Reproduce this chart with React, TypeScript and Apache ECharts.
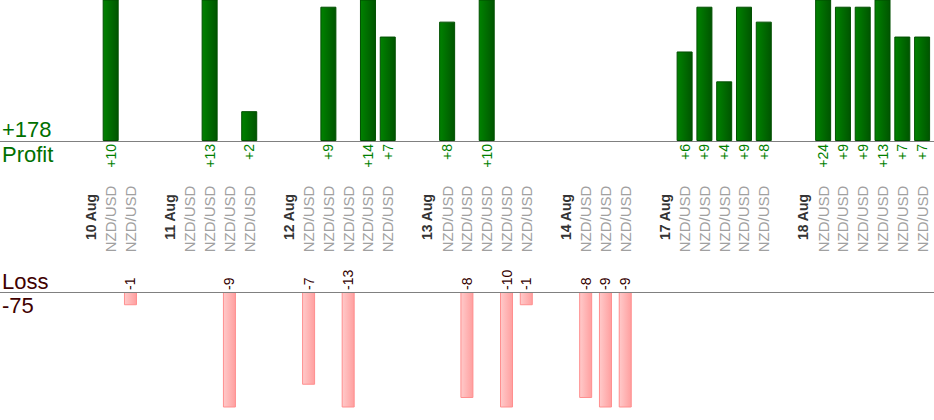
import React, { useEffect, useRef } from "react";
import * as echarts from "echarts";

const NZ = "NZD/USD";
const categories: string[] = [
  "10 Aug", NZ, NZ, "",
  "11 Aug", NZ, NZ, NZ, NZ, "",
  "12 Aug", NZ, NZ, NZ, NZ, NZ, "",
  "13 Aug", NZ, NZ, NZ, NZ, NZ, "",
  "14 Aug", NZ, NZ, NZ, "",
  "17 Aug", NZ, NZ, NZ, NZ, NZ, "",
  "18 Aug", NZ, NZ, NZ, NZ, NZ, NZ,
];
const dateLabels = ["10 Aug", "11 Aug", "12 Aug", "13 Aug", "14 Aug", "17 Aug", "18 Aug"];

const profitValues: (number | null)[] = [
  null, 10, null, null,
  null, null, 13, null, 2, null,
  null, null, 9, null, 14, 7, null,
  null, 8, null, 10, null, null, null,
  null, null, null, null, null,
  null, 6, 9, 4, 9, 8, null,
  null, 24, 9, 9, 13, 7, 7,
];
const lossValues: (number | null)[] = [
  null, null, -1, null,
  null, null, null, -9, null, null,
  null, -7, null, -13, null, null, null,
  null, null, -8, null, -10, -1, null,
  null, -8, -9, -9, null,
  null, null, null, null, null, null, null,
  null, null, null, null, null, null, null,
];

const FONT = 'Arial, "Liberation Sans", sans-serif';

export default function App() {
  const ref = useRef<HTMLDivElement>(null);
  useEffect(() => {
    if (!ref.current) return;
    const chart = echarts.init(ref.current, undefined, { renderer: "svg" });
    const totalProfit = profitValues.reduce((a: number, v) => a + (v || 0), 0);
    const totalLoss = lossValues.reduce((a: number, v) => a + (v || 0), 0);
    const catData = categories.map((c) =>
      dateLabels.includes(c)
        ? {
            value: c,
            textStyle: {
              fontWeight: "bold",
              color: "#333333",
              fontSize: 14,
              fontFamily: FONT,
              align: "center",
              verticalAlign: "middle",
              padding: [0, 0, 0, 4],
            },
          }
        : {
            value: c,
            textStyle: {
              color: "#a0a0a0",
              fontSize: 15,
              fontFamily: FONT,
              align: "center",
              verticalAlign: "middle",
            },
          }
    );
    chart.setOption({
      animation: false,
      textStyle: { fontFamily: FONT },
      grid: [
        { left: 81, width: 851, top: 0, height: 141 },
        { left: 81, width: 851, top: 292, height: 115 },
      ],
      xAxis: [
        {
          type: "category",
          gridIndex: 0,
          data: catData,
          axisLine: { show: false },
          axisTick: { show: false },
          axisLabel: {
            interval: 0,
            rotate: 90,
            align: "center",
            verticalAlign: "middle",
            margin: 78,
            fontFamily: FONT,
          },
        },
        {
          type: "category",
          gridIndex: 1,
          data: categories,
          show: false,
        },
      ],
      yAxis: [
        { type: "value", gridIndex: 0, min: 0, max: 9.45, show: false },
        { type: "value", gridIndex: 1, min: -8.68, max: 0, show: false },
      ],
      graphic: [
        { type: "line", shape: { x1: 0, y1: 141.5, x2: 934, y2: 141.5 }, style: { stroke: "#808080", lineWidth: 1 }, z: 10 },
        { type: "line", shape: { x1: 0, y1: 292.5, x2: 934, y2: 292.5 }, style: { stroke: "#808080", lineWidth: 1 }, z: 10 },
        { type: "text", left: 2, top: 118, style: { text: "+" + totalProfit, fill: "#007000", font: `22px ${FONT}` } },
        { type: "text", left: 2, top: 143, style: { text: "Profit", fill: "#007000", font: `22px ${FONT}` } },
        { type: "text", left: 2, top: 270, style: { text: "Loss", fill: "#400000", font: `22px ${FONT}` } },
        { type: "text", left: 2, top: 294, style: { text: String(totalLoss), fill: "#400000", font: `22px ${FONT}` } },
      ],
      series: [
        {
          type: "bar",
          xAxisIndex: 0,
          yAxisIndex: 0,
          data: profitValues,
          barWidth: 16,
          clip: true,
          itemStyle: {
            color: new echarts.graphic.LinearGradient(0, 0, 1, 0, [
              { offset: 0, color: "#008200" },
              { offset: 1, color: "#005500" },
            ]),
            borderColor: "#004f00",
            borderWidth: 1,
          },
          label: {
            show: true,
            position: "bottom",
            distance: 3,
            rotate: 90,
            align: "right",
            verticalAlign: "middle",
            color: "#008000",
            fontSize: 14,
            fontFamily: FONT,
            formatter: (p: any) => "+" + p.value,
          },
        },
        {
          type: "bar",
          xAxisIndex: 1,
          yAxisIndex: 1,
          data: lossValues,
          barWidth: 13,
          clip: true,
          itemStyle: {
            color: new echarts.graphic.LinearGradient(0, 0, 1, 0, [
              { offset: 0, color: "#ffcaca" },
              { offset: 1, color: "#ff9f9f" },
            ]),
            borderColor: "#ff8f8f",
            borderWidth: 1,
          },
          label: {
            show: true,
            position: "top",
            distance: 2,
            rotate: 90,
            align: "left",
            verticalAlign: "middle",
            color: "#330000",
            fontSize: 14,
            fontFamily: FONT,
            formatter: (p: any) => String(p.value),
          },
        },
      ],
    });
    return () => chart.dispose();
  }, []);
  return (
    <div
      ref={ref}
      style={{ position: "absolute", left: 0, top: 0, width: 934, height: 420, background: "#ffffff" }}
    />
  );
}
